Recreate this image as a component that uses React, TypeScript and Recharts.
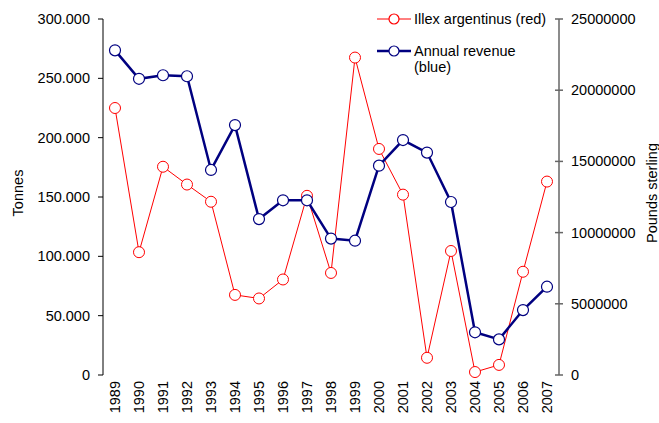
import React from "react";
import { ComposedChart, Line, XAxis, YAxis, Label } from "recharts";

// values
const years = [
  1989, 1990, 1991, 1992, 1993, 1994, 1995, 1996, 1997, 1998,
  1999, 2000, 2001, 2002, 2003, 2004, 2005, 2006, 2007,
];
const illexTonnes = [
  225000, 103500, 175500, 160500, 146000, 67500, 64500, 80500, 151000, 86000,
  267500, 190500, 152000, 14500, 104500, 2500, 8500, 87000, 163000,
];
const revenueGBP = [
  22800000, 20800000, 21050000, 20980000, 14400000, 17550000, 10950000, 12270000, 12270000, 9580000,
  9430000, 14700000, 16500000, 15620000, 12150000, 3000000, 2500000, 4560000, 6200000,
];
const tonneTicks = [0, 50000, 100000, 150000, 200000, 250000, 300000];
const poundTicks = [0, 5000000, 10000000, 15000000, 20000000, 25000000];

const RED = "#ff0000";
const NAVY = "#000080";
const AXIS_GREY = "#666666";
const FONT = "'Liberation Sans', Arial, sans-serif";
const FS = 14.5;

const data = years.map((y, i) => ({
  year: y,
  illex: illexTonnes[i],
  revenue: revenueGBP[i],
}));

// boundaries between the year categories, where the x tick marks sit
const yearEdges = [...years.map((y) => y - 0.5), years[years.length - 1] + 0.5];

const fmtTonnes = (v: number) =>
  v === 0 ? "0" : `${Math.floor(v / 1000)}.${String(v % 1000).padStart(3, "0")}`;

function EdgeTick({ x, y }: any) {
  return <line x1={x} x2={x} y1={y - 4} y2={y + 4} stroke={AXIS_GREY} strokeWidth={1.5} />;
}

function YearTick({ x, y, payload }: any) {
  return (
    <text
      x={x}
      y={y + 6}
      transform={`rotate(-90, ${x}, ${y + 6})`}
      textAnchor="end"
      dy="0.35em"
      fontSize={FS}
      fontFamily={FONT}
      fill="#000"
    >
      {payload.value}
    </text>
  );
}

function TonneTick({ x, y, payload }: any) {
  return (
    <g>
      <line x1={x - 5} x2={x} y1={y} y2={y} stroke="#000" strokeWidth={1} />
      <text x={x - 13} y={y} dy="0.35em" textAnchor="end" fontSize={FS} fontFamily={FONT} fill="#000">
        {fmtTonnes(payload.value)}
      </text>
    </g>
  );
}

function PoundTick({ x, y, payload }: any) {
  return (
    <g>
      <line x1={x - 4} x2={x + 4} y1={y} y2={y} stroke={AXIS_GREY} strokeWidth={1.5} />
      <text x={x + 12} y={y} dy="0.35em" textAnchor="start" fontSize={FS} fontFamily={FONT} fill="#000">
        {payload.value}
      </text>
    </g>
  );
}

function Swatch({ color, width }: { color: string; width: number }) {
  return (
    <svg width={36} height={16} style={{ flex: "none" }}>
      <line x1={1} x2={35} y1={8} y2={8} stroke={color} strokeWidth={width} />
      <circle cx={18} cy={8} r={5} fill="#fff" stroke={color} strokeWidth={1.2} />
    </svg>
  );
}

function LegendBox() {
  const text = { fontSize: FS, fontFamily: FONT, lineHeight: "16px", color: "#000", marginLeft: 2 };
  return (
    <div style={{ position: "absolute", top: 11, left: 376, width: 220 }}>
      <div style={{ display: "flex", alignItems: "flex-start", marginBottom: 16 }}>
        <Swatch color={RED} width={1} />
        <span style={text}>Illex argentinus (red)</span>
      </div>
      <div style={{ display: "flex", alignItems: "flex-start" }}>
        <Swatch color={NAVY} width={2.5} />
        <span style={text}>
          Annual revenue
          <br />
          (blue)
        </span>
      </div>
    </div>
  );
}

function SideLabel({ viewBox, text, dx }: any) {
  const x = viewBox.x + dx;
  const y = viewBox.y + viewBox.height / 2 - 4;
  return (
    <text
      x={x}
      y={y}
      transform={`rotate(-90, ${x}, ${y})`}
      textAnchor="middle"
      dy="0.35em"
      fontSize={FS}
      fontFamily={FONT}
      fill="#000"
    >
      {text}
    </text>
  );
}

export default function App() {
  return (
    <div style={{ position: "absolute", left: 0, top: 0, width: 659, height: 423, background: "#fff" }}>
      <ComposedChart width={659} height={423} data={data} margin={{ top: 19, right: 0, bottom: 0, left: 0 }}>
        <XAxis
          xAxisId="edges"
          type="number"
          dataKey="year"
          domain={[yearEdges[0], yearEdges[yearEdges.length - 1]]}
          ticks={yearEdges}
          interval={0}
          height={0}
          tickSize={0}
          tickMargin={0}
          tickLine={false}
          tick={<EdgeTick />}
          axisLine={{ stroke: AXIS_GREY, strokeWidth: 1.5 }}
          allowDataOverflow
        />
        <XAxis
          xAxisId="yr"
          type="number"
          dataKey="year"
          domain={[yearEdges[0], yearEdges[yearEdges.length - 1]]}
          ticks={years}
          interval={0}
          height={48}
          tickSize={0}
          tickMargin={0}
          tickLine={false}
          axisLine={false}
          tick={<YearTick />}
          allowDataOverflow
        />
        <YAxis
          yAxisId="t"
          orientation="left"
          width={103}
          domain={[0, 300000]}
          ticks={tonneTicks}
          interval={0}
          tickSize={0}
          tickMargin={0}
          tickLine={false}
          tick={<TonneTick />}
          axisLine={{ stroke: "#000", strokeWidth: 1 }}
        >
          <Label content={<SideLabel text="Tonnes" dx={18} />} />
        </YAxis>
        <YAxis
          yAxisId="p"
          orientation="right"
          width={100}
          domain={[0, 25000000]}
          ticks={poundTicks}
          interval={0}
          tickSize={0}
          tickMargin={0}
          tickLine={false}
          tick={<PoundTick />}
          axisLine={{ stroke: AXIS_GREY, strokeWidth: 1.5 }}
        >
          <Label content={<SideLabel text="Pounds sterling" dx={93} />} />
        </YAxis>
        <Line
          xAxisId="yr"
          yAxisId="t"
          type="linear"
          dataKey="illex"
          stroke={RED}
          strokeWidth={1}
          dot={{ r: 5.5, fill: "#fff", stroke: RED, strokeWidth: 1 }}
          isAnimationActive={false}
        />
        <Line
          xAxisId="yr"
          yAxisId="p"
          type="linear"
          dataKey="revenue"
          stroke={NAVY}
          strokeWidth={2.5}
          dot={{ r: 5.5, fill: "#fff", stroke: NAVY, strokeWidth: 1.2 }}
          isAnimationActive={false}
        />
      </ComposedChart>
      <LegendBox />
    </div>
  );
}
